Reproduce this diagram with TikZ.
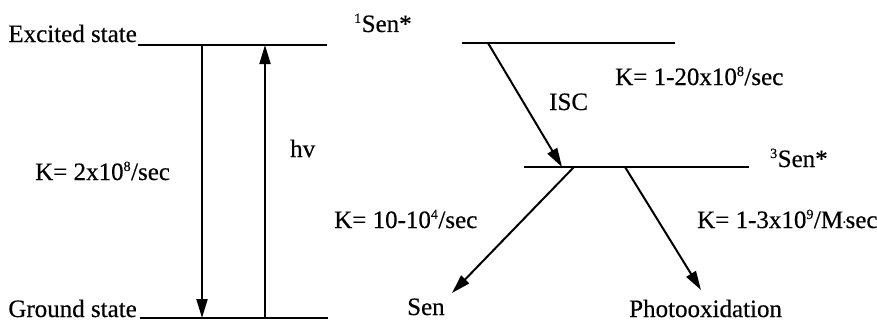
\documentclass[tikz,border=0pt]{standalone}
\usepackage{fontspec}
\setmainfont{Liberation Serif}[FakeBold=0.4]
\usetikzlibrary{arrows.meta}
\tikzset{
  lbl/.style={inner sep=0pt, font=\fontsize{25}{28}\selectfont},
  level/.style={line width=2pt},
  trans/.style={line width=2pt, -{Triangle[length=19pt,width=11pt]}},
}
\newcommand{\sps}[1]{\textsuperscript{\fontsize{14}{14}\selectfont #1}}
\begin{document}
\begin{tikzpicture}[x=1pt,y=-1pt]
\useasboundingbox (0,0) rectangle (877,321);
% levels
\coordinate (exL) at (138,45); \coordinate (exR) at (327,45);
\coordinate (grL) at (140,318); \coordinate (grR) at (328,318);
\coordinate (s1L) at (462,43); \coordinate (s1R) at (675,43);
\coordinate (t1L) at (524,167); \coordinate (t1R) at (749,167);
\draw[level] (exL) -- (exR);
\draw[level] (grL) -- (grR);
\draw[level] (s1L) -- (s1R);
\draw[level] (t1L) -- (t1R);
% labels
\node[lbl, anchor=base east] (exc) at (137,42) {Excited state};
\node[lbl, anchor=base east] (gnd) at (137,317) {Ground state};
\node[lbl, anchor=base west] (s1) at (354,32) {\sps{1}Sen*};
\node[lbl, anchor=base west] (hv) at (290,157) {hv};
\node[lbl, anchor=base west] (k1) at (35,180) {K= 2x10\sps{8}/sec};
\node[lbl, anchor=base west] (k2) at (334,228) {K= 10-10\sps{4}/sec};
\node[lbl, anchor=base west] (isc) at (549,110) {ISC};
\node[lbl, anchor=base west] (k3) at (615,85) {K= 1-20x10\sps{8}/sec};
\node[lbl, anchor=base west] (t1) at (770,167) {\sps{3}Sen*};
\node[lbl, anchor=base west] (k4) at (697,228) {K= 1-3x10\sps{9}/M\kern-0.5pt\raisebox{0.45ex}{\fontsize{14}{14}\selectfont .}\kern-0.5ptsec};
\node[lbl, anchor=base west] (sen) at (407,315) {Sen};
\node[lbl, anchor=base west] (photo) at (629,317) {Photooxidation};
% transitions
\coordinate (dA) at (202,45); \coordinate (dB) at (202,318);
\coordinate (uA) at (265,318); \coordinate (uB) at (265,45);
\coordinate (iA) at (488,43); \coordinate (iB) at (562,167);
\coordinate (sA) at (574,167); \coordinate (sB) at (452,293);
\coordinate (pA) at (625,167); \coordinate (pB) at (701,290);
\draw[trans] (dA) -- (dB);
\draw[trans] (uA) -- (uB);
\draw[trans] (iA) -- (iB);
\draw[trans] (sA) -- (sB);
\draw[trans] (pA) -- (pB);
\end{tikzpicture}
\end{document}
